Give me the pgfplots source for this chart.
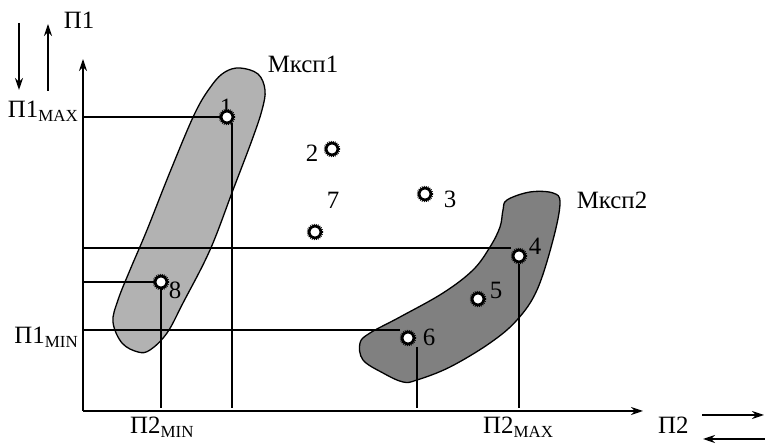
\documentclass[border=0pt]{standalone}
\usepackage{fontspec}
\setmainfont{Liberation Serif}
\usepackage{pgfplots}
\pgfplotsset{compat=1.18}
\usetikzlibrary{arrows.meta}
\newcommand{\lbl}{\fontsize{25}{25}\selectfont}
\newcommand{\sub}[1]{\raisebox{-4bp}{\fontsize{17}{17}\selectfont #1}}
\begin{document}
\begin{tikzpicture}
\begin{axis}[x=1bp,y=1bp,xmin=0,xmax=765,ymin=0,ymax=444,
  hide axis, clip=false, scale only axis]
% regions
\addplot[fill={rgb,255:red,178;green,178;blue,178}, draw=black, line width=1.3bp, smooth cycle, tension=0.6] coordinates {
(240,376) (258,370) (265,354) (262,334) (252,304) (233,254) (210,194) (183,141) (167,111) (150,94) (138,92) (122,101) (113,122) (118,144) (130,174) (147,214) (170,272) (195,331) (212,359) (225,372)};
\addplot[fill={rgb,255:red,128;green,128;blue,128}, draw=black, line width=1.3bp, smooth cycle, tension=0.6] coordinates {
(507,244) (530,252) (553,251) (560,241) (553,204) (537,154) (517,124) (490,101) (450,77) (417,64) (403,62) (383,71) (363,84) (360,101) (370,111) (400,127) (443,151) (473,174) (490,197) (500,217) (503,234)};
% axes
\addplot[line width=1.6bp, -{Stealth[length=12bp,width=8bp]}] coordinates {(83,33) (83,385)};
\addplot[line width=1.6bp, -{Stealth[length=12bp,width=8bp]}] coordinates {(83,33) (643,33)};
% direction arrows
\addplot[line width=1.6bp, -{Stealth[length=12bp,width=8bp]}] coordinates {(19,421) (19,354)};
\addplot[line width=1.6bp, -{Stealth[length=12bp,width=8bp]}] coordinates {(48,353) (48,420)};
\addplot[line width=1.6bp, -{Stealth[length=12bp,width=8bp]}] coordinates {(702,29) (764,29)};
\addplot[line width=1.6bp, -{Stealth[length=12bp,width=8bp]}] coordinates {(765,5) (703,5)};
% guide lines
\addplot[line width=1.3bp] coordinates {(83,327) (222,327)};
\addplot[line width=1.3bp] coordinates {(83,196) (511,196)};
\addplot[line width=1.3bp] coordinates {(83,162) (155,162)};
\addplot[line width=1.3bp] coordinates {(83,114) (400,114)};
\addplot[line width=1.3bp] coordinates {(232,321) (232,36)};
\addplot[line width=1.3bp] coordinates {(161,155) (161,36)};
\addplot[line width=1.3bp] coordinates {(417,97) (417,36)};
\addplot[line width=1.3bp] coordinates {(519,180) (519,36)};
% points
\addplot[only marks, mark=*, mark size=5.8bp, mark options={fill=white, draw=black, line width=2.6bp}] coordinates {
(227,327) (332,295) (425,250) (519,188) (478,145) (408,106) (315,212) (161,162)};
\addplot[only marks, mark=o, mark size=7.5bp, mark options={draw=black, line width=1.4bp, dash pattern=on 0.9bp off 1.1bp}] coordinates {
(227,327) (332,295) (425,250) (519,188) (478,145) (408,106) (315,212) (161,162)};
% labels
\node[font=\lbl] at (axis cs:226,337) {1};
\node[font=\lbl] at (axis cs:312,291) {2};
\node[font=\lbl] at (axis cs:450,245) {3};
\node[font=\lbl] at (axis cs:535,198) {4};
\node[font=\lbl] at (axis cs:496,154) {5};
\node[font=\lbl] at (axis cs:429,107) {6};
\node[font=\lbl] at (axis cs:333,244) {7};
\node[font=\lbl] at (axis cs:175,154) {8};
\node[font=\lbl] at (axis cs:303,380) {Мксп1};
\node[font=\lbl] at (axis cs:612,244) {Мксп2};
\node[font=\lbl] at (axis cs:79,424) {П1};
\node[font=\lbl, anchor=base east, inner sep=0pt] at (axis cs:78,326) {П1\sub{MAX}};
\node[font=\lbl, anchor=base east, inner sep=0pt] at (axis cs:78,100) {П1\sub{MIN}};
\node[font=\lbl, anchor=base west, inner sep=0pt] at (axis cs:130,10) {П2\sub{MIN}};
\node[font=\lbl, anchor=base west, inner sep=0pt] at (axis cs:483,10) {П2\sub{MAX}};
\node[font=\lbl, anchor=base west, inner sep=0pt] at (axis cs:658,10) {П2};
\end{axis}
\pgfresetboundingbox
\path (current axis.south west) rectangle (current axis.north east);
\end{tikzpicture}
\end{document}
